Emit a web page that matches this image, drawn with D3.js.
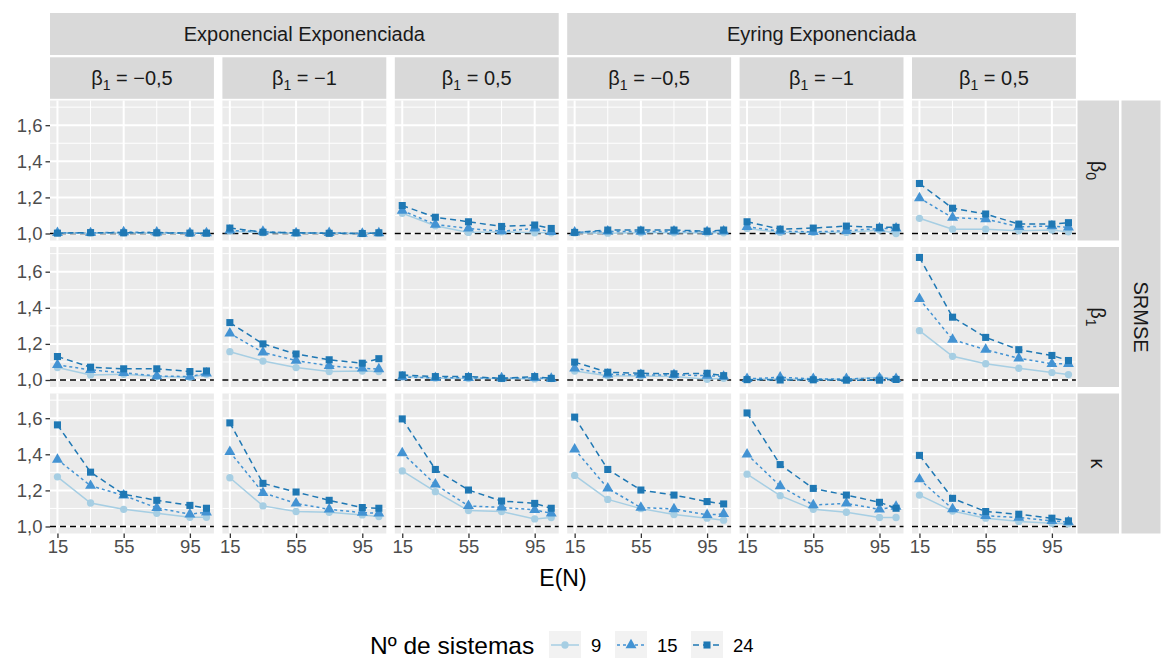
<!DOCTYPE html>
<html><head><meta charset="utf-8">
<script src="https://cdn.jsdelivr.net/npm/d3@7"></script>
<style>
body{margin:0;background:#fff}
svg{display:block}
text{font-family:"Liberation Sans",Arial,Helvetica,sans-serif}
</style>
</head><body><svg id="c" width="1162" height="658"></svg>
<script>
// ---------- data ----------
const xValues = [15, 35, 55, 75, 95, 105];
const xTicks = [15, 55, 95];
const xMinor = [35, 75];
const yTicks = [1.0, 1.2, 1.4, 1.6];
const yMinor = [1.1, 1.3, 1.5, 1.7];
const systems = ["9", "15", "24"];
const models = ["Exponencial Exponenciada", "Eyring Exponenciada"];
const betaLevels = ["−0,5", "−1", "0,5"];
const paramBase = ["β", "β", "κ"];
const paramSub = ["0", "1", ""];
const outerRowLabel = "SRMSE";
const xTitle = "E(N)";
const legendTitle = "Nº de sistemas";
// each: 6 panels (ExpExp −0,5, −1, 0,5, Eyring −0,5, −1, 0,5) × 3 series (9, 15, 24)
const srmseBeta0 = [
  [[1.003,1.002,1.003,1.002,1.001,1.001],[1.004,1.003,1.008,1.006,1.002,1.002],[1.002,1.005,1.004,1.004,1.002,1.002]],
  [[1.013,1.004,1.002,1.001,1.000,1.003],[1.017,1.010,1.002,1.004,1.000,1.002],[1.030,1.007,1.004,1.001,1.000,1.004]],
  [[1.112,1.043,1.006,1.009,1.004,1.004],[1.127,1.050,1.028,1.013,1.028,1.009],[1.155,1.090,1.065,1.039,1.047,1.028]],
  [[1.003,1.002,1.004,1.004,1.003,1.004],[1.006,1.012,1.010,1.012,1.009,1.012],[1.006,1.019,1.019,1.019,1.013,1.019]],
  [[1.028,1.006,1.006,1.006,1.019,1.000],[1.037,1.013,1.009,1.015,1.028,1.028],[1.065,1.024,1.030,1.041,1.034,1.034]],
  [[1.084,1.024,1.024,1.015,1.019,1.009],[1.196,1.088,1.080,1.037,1.041,1.034],[1.277,1.140,1.108,1.052,1.052,1.060]]
];
const srmseBeta1 = [
  [[1.069,1.028,1.032,1.019,1.015,1.032],[1.084,1.056,1.040,1.022,1.019,1.037],[1.130,1.071,1.062,1.062,1.047,1.050]],
  [[1.157,1.105,1.069,1.047,1.050,1.047],[1.258,1.153,1.108,1.078,1.065,1.060],[1.318,1.200,1.144,1.112,1.093,1.118]],
  [[1.022,1.010,1.008,1.008,1.006,1.008],[1.016,1.012,1.012,1.010,1.012,1.008],[1.028,1.019,1.019,1.009,1.019,1.009]],
  [[1.050,1.024,1.022,1.019,1.004,1.009],[1.065,1.032,1.028,1.028,1.024,1.019],[1.099,1.043,1.037,1.034,1.037,1.024]],
  [[1.004,1.006,1.004,1.004,1.015,1.006],[1.006,1.015,1.006,1.006,1.011,1.006],[1.002,1.000,1.001,0.999,0.999,1.003]],
  [[1.273,1.131,1.090,1.065,1.041,1.030],[1.449,1.224,1.168,1.120,1.090,1.090],[1.679,1.348,1.236,1.168,1.136,1.108]]
];
const srmseKappa = [
  [[1.275,1.130,1.095,1.073,1.051,1.051],[1.371,1.226,1.172,1.103,1.068,1.079],[1.563,1.301,1.178,1.145,1.117,1.101]],
  [[1.270,1.114,1.083,1.079,1.064,1.055],[1.413,1.187,1.128,1.095,1.077,1.073],[1.574,1.239,1.191,1.145,1.105,1.101]],
  [[1.308,1.193,1.088,1.083,1.042,1.050],[1.407,1.233,1.114,1.106,1.092,1.073],[1.596,1.316,1.202,1.141,1.128,1.101]],
  [[1.283,1.150,1.099,1.066,1.046,1.035],[1.428,1.211,1.105,1.097,1.064,1.070],[1.606,1.316,1.202,1.174,1.138,1.125]],
  [[1.290,1.171,1.095,1.079,1.050,1.050],[1.400,1.224,1.119,1.128,1.095,1.110],[1.629,1.343,1.211,1.174,1.134,1.101]],
  [[1.174,1.086,1.046,1.028,1.018,1.015],[1.262,1.097,1.059,1.050,1.031,1.024],[1.394,1.156,1.083,1.068,1.046,1.031]]
];
const rows = [srmseBeta0, srmseBeta1, srmseKappa];

// ---------- styles ----------
const colors = ["#a6cee3", "#4393d3", "#1f78b4"];
const dashes = [null, "3,3", "6,4"];
const shapes = [d3.symbolCircle, d3.symbolTriangle, d3.symbolSquare];
const shapeSizes = [42, 52, 50];

const L = 50, panelW = 163.9, gapX = 8.5;
const T = 100.5, panelH = 140, gapY = 6.5;
const fontStrip = 20, fontAxis = 18.5;

const svg = d3.select("#c");
const x = d3.scaleLinear().domain([10.5, 109.5]).range([0, panelW]);
const y = d3.scaleLinear().domain([0.9612, 1.7368]).range([panelH, 0]);
const fmt = d => d3.format(".1f")(d).replace(".", ",");

const colX = c => L + c * (panelW + gapX);
const rowY = r => T + r * (panelH + gapY);

// top strips
models.forEach((m, i) => {
  const x0 = colX(i * 3), x1 = colX(i * 3 + 2) + panelW;
  svg.append("rect").attr("x", x0).attr("y", 13).attr("width", x1 - x0).attr("height", 42).attr("fill", "#d9d9d9");
  svg.append("text").attr("x", (x0 + x1) / 2).attr("y", 34).attr("dy", "0.35em")
    .attr("text-anchor", "middle").attr("font-size", fontStrip).attr("fill", "#1a1a1a").text(m);
});
for (let c = 0; c < 6; c++) {
  const x0 = colX(c);
  svg.append("rect").attr("x", x0).attr("y", 57.3).attr("width", panelW).attr("height", 41.5).attr("fill", "#d9d9d9");
  const t = svg.append("text").attr("x", x0 + panelW / 2).attr("y", 78).attr("dy", "0.35em")
    .attr("text-anchor", "middle").attr("font-size", fontStrip).attr("fill", "#1a1a1a");
  t.append("tspan").text("β");
  t.append("tspan").attr("font-size", fontStrip * 0.7).attr("dy", 5).text("1");
  t.append("tspan").attr("dy", -5).text(" = " + betaLevels[c % 3]);
}

// right strips
for (let r = 0; r < 3; r++) {
  const y0 = rowY(r);
  svg.append("rect").attr("x", 1077.5).attr("y", y0).attr("width", 41.5).attr("height", panelH).attr("fill", "#d9d9d9");
  const g = svg.append("g").attr("transform", `translate(${1098},${y0 + panelH / 2}) rotate(90)`);
  const t = g.append("text").attr("text-anchor", "middle").attr("dy", "0.35em")
    .attr("font-size", fontStrip).attr("fill", "#1a1a1a");
  t.append("tspan").text(paramBase[r]);
  if (paramSub[r]) t.append("tspan").attr("font-size", fontStrip * 0.7).attr("dy", 5).text(paramSub[r]);
}
svg.append("rect").attr("x", 1121.5).attr("y", rowY(0)).attr("width", 39).attr("height", rowY(2) + panelH - rowY(0)).attr("fill", "#d9d9d9");
svg.append("text").attr("transform", `translate(1141,${(rowY(0) + rowY(2) + panelH) / 2}) rotate(90)`)
  .attr("text-anchor", "middle").attr("dy", "0.35em").attr("font-size", fontStrip).attr("fill", "#1a1a1a").text(outerRowLabel);

// panels
for (let r = 0; r < 3; r++) {
  for (let c = 0; c < 6; c++) {
    const g = svg.append("g").attr("transform", `translate(${colX(c)},${rowY(r)})`);
    g.append("rect").attr("width", panelW).attr("height", panelH).attr("fill", "#ebebeb");
    g.selectAll(".ymin").data(yMinor).enter().append("line")
      .attr("x1", 0).attr("x2", panelW).attr("y1", d => y(d)).attr("y2", d => y(d))
      .attr("stroke", "#fff").attr("stroke-width", 1);
    g.selectAll(".xmin").data(xMinor).enter().append("line")
      .attr("y1", 0).attr("y2", panelH).attr("x1", d => x(d)).attr("x2", d => x(d))
      .attr("stroke", "#fff").attr("stroke-width", 1);
    g.selectAll(".ymaj").data(yTicks).enter().append("line")
      .attr("x1", 0).attr("x2", panelW).attr("y1", d => y(d)).attr("y2", d => y(d))
      .attr("stroke", "#fff").attr("stroke-width", 2);
    g.selectAll(".xmaj").data(xTicks).enter().append("line")
      .attr("y1", 0).attr("y2", panelH).attr("x1", d => x(d)).attr("x2", d => x(d))
      .attr("stroke", "#fff").attr("stroke-width", 2);
    // reference line
    g.append("line").attr("x1", 0).attr("x2", panelW).attr("y1", y(1)).attr("y2", y(1))
      .attr("stroke", "#000").attr("stroke-width", 1.5).attr("stroke-dasharray", "6,4");
    const panelData = rows[r][c];
    panelData.forEach((vals, s) => {
      const pts = vals.map((v, i) => [xValues[i], v]);
      g.append("path").datum(pts)
        .attr("d", d3.line().x(d => x(d[0])).y(d => y(d[1])))
        .attr("fill", "none").attr("stroke", colors[s]).attr("stroke-width", 1.5)
        .attr("stroke-dasharray", dashes[s]);
      g.selectAll(null).data(pts).enter().append("path")
        .attr("transform", d => `translate(${x(d[0])},${y(d[1])})`)
        .attr("d", d3.symbol().type(shapes[s]).size(shapeSizes[s]))
        .attr("fill", colors[s]);
    });
    // axes
    if (c === 0) {
      const ax = g.append("g").call(d3.axisLeft(y).tickValues(yTicks).tickFormat(fmt).tickSize(4.5).tickPadding(3));
      ax.select(".domain").remove();
      ax.selectAll("line").attr("stroke", "#333").attr("stroke-width", 1.3);
      ax.selectAll("text").attr("font-size", fontAxis).attr("fill", "#4d4d4d")
        .attr("font-family", '"Liberation Sans",Arial,sans-serif');
    }
    if (r === 2) {
      const ax = g.append("g").attr("transform", `translate(0,${panelH})`)
        .call(d3.axisBottom(x).tickValues(xTicks).tickFormat(d3.format("d")).tickSize(4.5).tickPadding(2));
      ax.select(".domain").remove();
      ax.selectAll("line").attr("stroke", "#333").attr("stroke-width", 1.3);
      ax.selectAll("text").attr("font-size", fontAxis).attr("fill", "#4d4d4d")
        .attr("font-family", '"Liberation Sans",Arial,sans-serif');
    }
  }
}

// x title
const cx = (L + colX(5) + panelW) / 2;
svg.append("text").attr("x", cx).attr("y", 578).attr("dy", "0.35em").attr("text-anchor", "middle")
  .attr("font-size", 23).attr("fill", "#000").text(xTitle);

// legend
const lg = svg.append("g");
lg.append("text").attr("x", 370).attr("y", 645).attr("dy", "0.35em").attr("font-size", 24.5).attr("fill", "#000").text(legendTitle);
const keyX = [549, 615, 691];
const labX = [591, 657, 733];
systems.forEach((s, i) => {
  const k = lg.append("g").attr("transform", `translate(${keyX[i]},631)`);
  k.append("rect").attr("width", 32).attr("height", 28).attr("fill", "#f2f2f2");
  k.append("line").attr("x1", 2).attr("x2", 30).attr("y1", 14).attr("y2", 14)
    .attr("stroke", colors[i]).attr("stroke-width", 1.5).attr("stroke-dasharray", dashes[i]);
  k.append("path").attr("transform", "translate(16,14)").attr("d", d3.symbol().type(shapes[i]).size(shapeSizes[i])).attr("fill", colors[i]);
  lg.append("text").attr("x", labX[i]).attr("y", 646).attr("dy", "0.35em").attr("font-size", fontAxis).attr("fill", "#000").text(s);
});
</script>
</body></html>
